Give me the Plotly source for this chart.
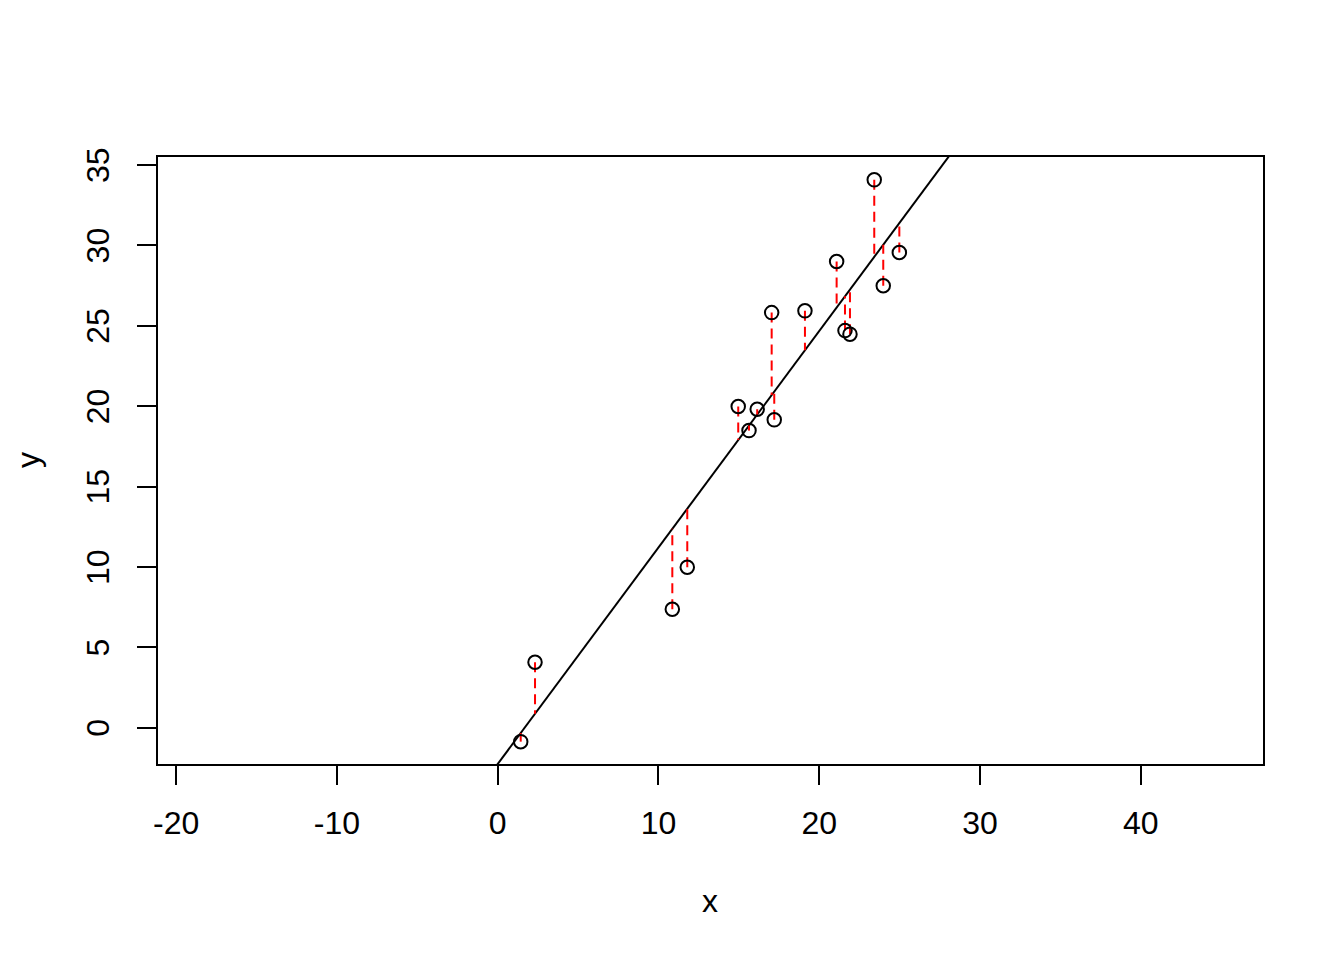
import plotly.graph_objects as go

# Data
x_vals = [1.43, 2.32, 10.86, 11.79, 14.96, 15.63, 16.14, 17.04, 17.20, 19.11,
          21.08, 21.60, 21.91, 23.42, 23.98, 24.98]
y_vals = [-0.87, 4.07, 7.37, 9.98, 19.98, 18.48, 19.81, 25.82, 19.15, 25.93,
          29.00, 24.70, 24.48, 34.08, 27.49, 29.56]
intercept = -2.26
slope = 1.347

x_ticks = [-20, -10, 0, 10, 20, 30, 40]
y_ticks = [0, 5, 10, 15, 20, 25, 30, 35]
x_range = [-21.13, 47.6]
y_range = [-2.26, 35.5]

FONT = "Liberation Sans, Arial, Helvetica, sans-serif"

fitted = [intercept + slope * xv for xv in x_vals]

seg_x, seg_y = [], []
for xv, yv, fv in zip(x_vals, y_vals, fitted):
    seg_x += [xv, xv, None]
    seg_y += [yv, fv, None]

fig = go.Figure()

fig.add_trace(go.Scatter(
    x=x_range, y=[intercept + slope * v for v in x_range],
    mode="lines", line=dict(color="black", width=2),
    hoverinfo="skip", showlegend=False))

fig.add_trace(go.Scatter(
    x=seg_x, y=seg_y, mode="lines",
    line=dict(color="#FF0000", width=2, dash="10px,6px"),
    hoverinfo="skip", showlegend=False))

fig.add_trace(go.Scatter(
    x=x_vals, y=y_vals, mode="markers",
    marker=dict(symbol="circle-open", size=13.5, color="black",
                line=dict(color="black", width=2)),
    showlegend=False))

axis_common = dict(
    showline=True, mirror=True, linecolor="black", linewidth=2,
    ticks="outside", ticklen=19, tickwidth=2, tickcolor="black",
    showgrid=False, zeroline=False,
    tickfont=dict(family=FONT, size=32, color="black"),
)

fig.update_xaxes(range=x_range, tickvals=x_ticks,
                 ticktext=[str(v) for v in x_ticks],
                 ticklabelstandoff=11, **axis_common)
fig.update_yaxes(range=y_range, tickvals=y_ticks,
                 ticktext=[str(v) for v in y_ticks],
                 tickangle=-90, ticklabelstandoff=15, ticklabelshift=5,
                 **axis_common)

fig.add_annotation(text="x", xref="paper", yref="paper",
                   x=0.4995, y=-0.2257, showarrow=False,
                   xanchor="center", yanchor="middle",
                   font=dict(family=FONT, size=32, color="black"))
fig.add_annotation(text="y", xref="paper", yref="paper",
                   x=-0.118, y=0.5, showarrow=False, textangle=-90,
                   xanchor="center", yanchor="middle",
                   font=dict(family=FONT, size=32, color="black"))

fig.update_layout(
    width=1336, height=952,
    margin=dict(l=150, r=81, t=149, b=196),
    paper_bgcolor="white", plot_bgcolor="white",
    showlegend=False,
)

fig.write_html("out.html")
